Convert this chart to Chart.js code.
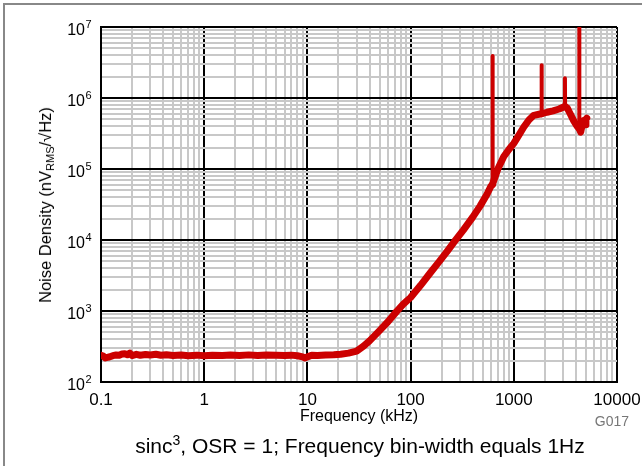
<!DOCTYPE html>
<html>
<head>
<meta charset="utf-8">
<script src="https://cdn.jsdelivr.net/npm/chart.js@4.4.1/dist/chart.umd.min.js"></script>
<style>
  html, body { margin: 0; padding: 0; background: #fff; overflow: hidden; }
  #wrap { position: relative; width: 642px; height: 466px; overflow: hidden; font-family: "Liberation Sans", Arial, sans-serif; color: #000; }
  .frameTop { position: absolute; left: 3px; top: 3px; width: 639px; height: 2px; background: #888; }
  .frameLeft { position: absolute; left: 3px; top: 3px; width: 2px; height: 463px; background: #888; }
  canvas { position: absolute; left: 0; top: 0; }
  .yTitle { position: absolute; left: 46px; top: 205px; transform: translate(-50%, -50%) rotate(-90deg); font-size: 16.5px; white-space: nowrap; }
  .yTitle sub { font-size: 11px; vertical-align: -3px; }
  .xTitle { position: absolute; left: 101px; width: 516px; top: 407px; text-align: center; font-size: 16px; }
  .code { position: absolute; right: 13px; top: 413px; font-size: 14px; color: #777; }
  .caption { position: absolute; left: 101px; width: 518px; top: 434px; text-align: center; font-size: 21px; white-space: nowrap; }
  .caption sup { font-size: 14px; vertical-align: 8px; line-height: 0; }
</style>
</head>
<body>
<div id="wrap">
  <div class="frameTop"></div>
  <div class="frameLeft"></div>
  <canvas id="noiseChart" width="642" height="466"></canvas>
  <div class="yTitle">Noise Density (nV<sub>RMS</sub>/√Hz)</div>
  <div class="xTitle">Frequency (kHz)</div>
  <div class="code">G017</div>
  <div class="caption">sinc<sup>3</sup>, OSR = 1; Frequency bin-width equals 1Hz</div>
</div>
<script>
// frequency in kHz, noise density in nV/rtHz
const freqKHz = [
  0.1, 0.105, 0.11, 0.115, 0.12, 0.13, 0.14, 0.15, 0.16, 0.17, 0.18, 0.19, 0.2, 0.22, 0.24, 0.27,
  0.3, 0.34, 0.38, 0.43, 0.5, 0.6, 0.7, 0.85, 1, 1.2, 1.5, 1.8, 2.2, 2.7, 3.3, 4, 5, 6, 7, 8, 9,
  9.5, 10, 11, 12.5, 15, 18, 21, 25, 30, 35, 40, 50, 60, 73, 85, 100, 125, 154, 190, 224, 270,
  324, 400, 471, 550, 600, 622, 623, 624, 700, 800, 900, 1000, 1120, 1250, 1400, 1560, 1750,
  1855, 1860, 1865, 2100, 2400, 2750, 3120, 3130, 3140, 3300, 3500, 3800, 4100, 4300, 4310,
  4320, 4450, 4600, 4750, 4900, 5000, 5090,
];
const noiseDensity = [
  238, 232, 218, 222, 225, 235, 240, 238, 248, 250, 242, 255, 236, 245, 238, 244,
  240, 246, 238, 242, 236, 240, 235, 239, 234, 238, 236, 240, 237, 241, 236, 240, 238, 236, 239, 234, 226,
  218, 226, 238, 236, 240, 242, 246, 255, 272, 320, 380, 530, 700, 980, 1250, 1550, 2300, 3400, 5000, 6800, 9800,
  13800, 21000, 30000, 44000, 57000, 60000, 3900000, 62000, 100000, 150000, 190000, 230000, 300000, 390000, 490000, 570000, 590000,
  600000, 2900000, 600000, 630000, 660000, 700000, 760000, 1900000, 760000, 720000, 610000, 480000, 400000, 370000, 10000000,
  370000, 330000, 420000, 480000, 420000, 500000, 520000,
];

const xDecades = [0.1, 1, 10, 100, 1000, 10000];
const yDecades = [1e2, 1e3, 1e4, 1e5, 1e6, 1e7];
const yExponents = ["2", "3", "4", "5", "6", "7"];

const palette = {
  red: "#cc0000",
  major: "#000000",
  minor: "#c8c8c8",
};

function isDecade(value) {
  const l = Math.log10(value);
  return Math.abs(l - Math.round(l)) < 1e-9;
}

// narrow tones stick out of the noise floor; draw them thinner
function isSpike(i) {
  if (i <= 0 || i >= noiseDensity.length - 1) return false;
  return noiseDensity[i] > 2 * noiseDensity[i - 1] && noiseDensity[i] > 2 * noiseDensity[i + 1];
}

function logTicks(decades) {
  const ticks = [];
  decades.forEach((d, i) => {
    ticks.push(d);
    if (i < decades.length - 1) {
      for (let k = 2; k <= 9; k++) ticks.push(d * k);
    }
  });
  return ticks.map((value) => ({ value }));
}

function gridColor(ctx) {
  if (!ctx.tick) return palette.major;
  return isDecade(ctx.tick.value) ? palette.major : palette.minor;
}

const yLabels = {
  id: "yLabels",
  afterDraw(chart) {
    const ctx = chart.ctx;
    const scale = chart.scales.y;
    ctx.save();
    ctx.fillStyle = "#000";
    yDecades.forEach((v, i) => {
      const y = scale.getPixelForValue(v);
      ctx.font = '16px "Liberation Sans", Arial, sans-serif';
      ctx.textAlign = "right";
      ctx.textBaseline = "alphabetic";
      ctx.fillText("10", 85, y + 8);
      ctx.font = '11px "Liberation Sans", Arial, sans-serif';
      ctx.textAlign = "left";
      ctx.fillText(yExponents[i], 85.5, y + 1);
    });
    ctx.restore();
  },
};

const points = freqKHz.map((f, i) => ({ x: f, y: noiseDensity[i] }));

new Chart(document.getElementById("noiseChart"), {
  type: "line",
  data: {
    datasets: [
      {
        data: points,
        borderColor: palette.red,
        borderWidth: 7,
        borderJoinStyle: "round",
        borderCapStyle: "round",
        pointRadius: 0,
        tension: 0,
        fill: false,
        segment: {
          borderWidth: (ctx) => (isSpike(ctx.p0DataIndex) || isSpike(ctx.p1DataIndex) ? 4 : undefined),
        },
      },
    ],
  },
  options: {
    responsive: false,
    animation: false,
    layout: { padding: { left: 0, top: 27, right: 25, bottom: 40 } },
    plugins: { legend: { display: false }, tooltip: { enabled: false } },
    scales: {
      x: {
        type: "logarithmic",
        min: 0.1,
        max: 10000,
        afterBuildTicks: (scale) => { scale.ticks = logTicks(xDecades); },
        afterFit: (scale) => { scale.height = 44; scale.paddingLeft = 0; scale.paddingRight = 0; },
        grid: { color: gridColor, lineWidth: 2, drawTicks: false },
        border: { display: true, color: palette.major, width: 2 },
        ticks: {
          autoSkip: false,
          maxRotation: 0,
          padding: 8,
          color: "#000",
          font: { family: '"Liberation Sans", Arial, sans-serif', size: 17 },
          callback: (value) => (isDecade(value) ? (value < 1 ? "0.1" : String(Math.round(value))) : ""),
        },
      },
      y: {
        type: "logarithmic",
        min: 100,
        max: 1e7,
        afterBuildTicks: (scale) => { scale.ticks = logTicks(yDecades); },
        afterFit: (scale) => { scale.width = 101; },
        grid: { color: gridColor, lineWidth: 2, drawTicks: false },
        border: { display: true, color: palette.major, width: 2 },
        ticks: { display: false },
      },
    },
  },
  plugins: [yLabels],
});
</script>
</body>
</html>
